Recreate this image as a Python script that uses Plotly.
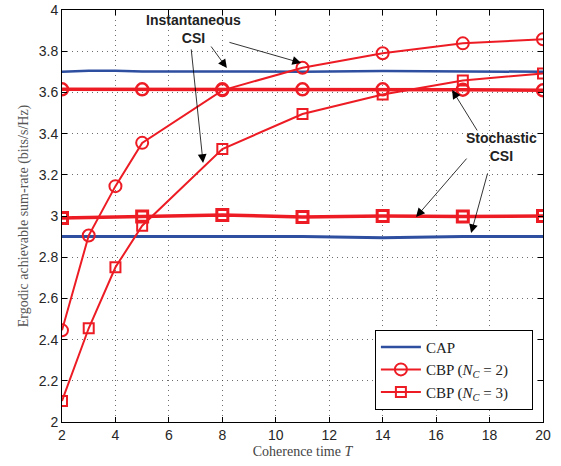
import plotly.graph_objects as go

T = [2, 3, 4, 5, 8, 11, 14, 17, 20]
T_stoch = [2, 5, 8, 11, 14, 17, 20]

cap_inst = [3.700, 3.705, 3.705, 3.702, 3.702, 3.700, 3.704, 3.702, 3.700]
cap_stoch = [2.900, 2.900, 2.900, 2.900, 2.900, 2.900, 2.895, 2.900, 2.900]
cbp2_inst = [2.445, 2.905, 3.145, 3.355, 3.610, 3.720, 3.790, 3.838, 3.858]
cbp3_inst = [2.102, 2.455, 2.751, 2.953, 3.325, 3.495, 3.590, 3.658, 3.692]
cbp2_stoch = [3.615, 3.615, 3.615, 3.615, 3.615, 3.613, 3.610]
cbp3_stoch = [2.990, 2.998, 3.005, 2.995, 3.000, 2.997, 3.000]

x_ticks = [2, 4, 6, 8, 10, 12, 14, 16, 18, 20]
y_ticks = [2, 2.2, 2.4, 2.6, 2.8, 3, 3.2, 3.4, 3.6, 3.8, 4]

BLUE = "rgb(46,78,160)"
RED = "rgb(237,28,36)"
serif = "Liberation Serif, Times New Roman, serif"
sans = "Liberation Sans, Arial, sans-serif"
PAD = "\u00a0" * 5

fig = go.Figure()
fig.add_trace(go.Scatter(x=T, y=cap_inst, mode="lines", line=dict(color=BLUE, width=2.5),
                         name="CAP", legendgroup="cap"))
fig.add_trace(go.Scatter(x=T, y=cap_stoch, mode="lines", line=dict(color=BLUE, width=3),
                         name="CAP", legendgroup="cap", showlegend=False))
fig.add_trace(go.Scatter(x=T_stoch, y=cbp2_stoch, mode="lines+markers", line=dict(color=RED, width=3.5),
                         marker=dict(symbol="circle-open", size=12, color=RED, line=dict(width=2.5)),
                         name="CBP2s", legendgroup="c2", showlegend=False))
fig.add_trace(go.Scatter(x=T_stoch, y=cbp3_stoch, mode="lines+markers", line=dict(color=RED, width=3.5),
                         marker=dict(symbol="square-open", size=11, color=RED, line=dict(width=3)),
                         name="CBP3s", legendgroup="c3", showlegend=False))
fig.add_trace(go.Scatter(x=T, y=cbp2_inst, mode="lines+markers", line=dict(color=RED, width=2),
                         marker=dict(symbol="circle-open", size=12, color=RED, line=dict(width=2)),
                         name="CBP (<i>N</i><sub><i>C</i></sub> = 2)" + PAD, legendgroup="c2"))
fig.add_trace(go.Scatter(x=T, y=cbp3_inst, mode="lines+markers", line=dict(color=RED, width=2),
                         marker=dict(symbol="square-open", size=10, color=RED, line=dict(width=2)),
                         name="CBP (<i>N</i><sub><i>C</i></sub> = 3)" + PAD, legendgroup="c3"))

# arrows: (tail_x, tail_y, head_x, head_y)
arrows = [
    (7.54, 3.830, 8.17, 3.718),
    (8.21, 3.845, 10.95, 3.743),
    (6.83, 3.816, 7.28, 3.257),
    (17.57, 3.408, 16.60, 3.612),
    (17.19, 3.286, 15.25, 2.995),
    (17.94, 3.214, 17.31, 2.917),
]
for tx, ty, hx, hy in arrows:
    fig.add_annotation(x=hx, y=hy, ax=tx, ay=ty, xref="x", yref="y", axref="x", ayref="y",
                       text="", showarrow=True, arrowhead=2, arrowsize=2.2, arrowwidth=0.8,
                       arrowcolor="black")

fig.add_annotation(x=6.92, y=3.91, xref="x", yref="y", text="<b>Instantaneous<br>CSI</b>",
                   showarrow=False, font=dict(family=sans, size=14, color="#222"), align="center")
fig.add_annotation(x=18.45, y=3.335, xref="x", yref="y", text="<b>Stochastic<br>CSI</b>",
                   showarrow=False, font=dict(family=sans, size=14, color="#222"), align="center")

axis_common = dict(showline=True, linecolor="black", linewidth=1, mirror="ticks",
                   ticks="inside", ticklen=5, tickcolor="black", automargin=False,
                   showgrid=True, gridcolor="rgba(60,60,60,0.75)", griddash="1px,4px", gridwidth=1,
                   zeroline=False, tickfont=dict(family=sans, size=14, color="#262626"))

fig.update_xaxes(range=[2, 20], tickvals=x_ticks, ticktext=[str(v) for v in x_ticks],
                 title=dict(text="Coherence time <i>T</i>", font=dict(family=serif, size=14, color="#444"),
                            standoff=4),
                 **axis_common)
fig.update_yaxes(range=[2, 4], tickvals=y_ticks, ticktext=[("%g" % v) for v in y_ticks],
                 title=dict(text="Ergodic achievable sum-rate (bits/s/Hz)",
                            font=dict(family=serif, size=14, color="#555"), standoff=6),
                 **axis_common)

fig.update_layout(
    width=561, height=466,
    margin=dict(l=62, r=18, t=10, b=44),
    plot_bgcolor="white", paper_bgcolor="white",
    legend=dict(x=0.979, y=0.03, xanchor="right", yanchor="bottom",
                bgcolor="white", bordercolor="black", borderwidth=1, itemwidth=40,
                font=dict(family=serif, size=15, color="#222"), tracegroupgap=0),
    showlegend=True,
)

fig.write_html("out.html")
